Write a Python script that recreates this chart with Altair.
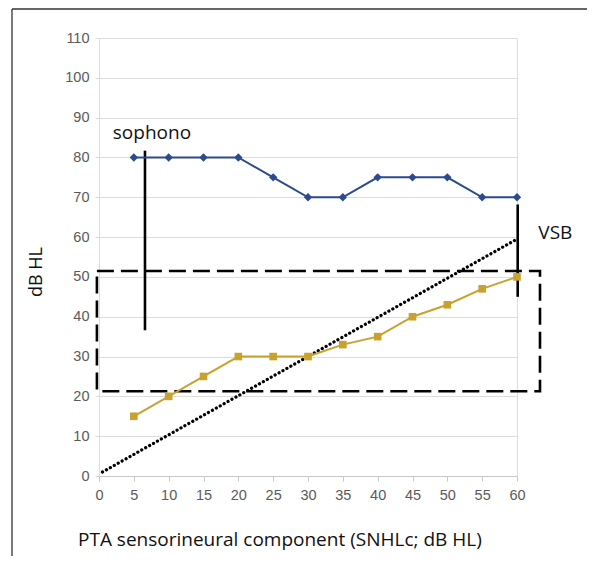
import altair as alt
import pandas as pd

# data
x_vals = [5, 10, 15, 20, 25, 30, 35, 40, 45, 50, 55, 60]
blue_vals = [80, 80, 80, 80, 75, 70, 70, 75, 75, 75, 70, 70]
gold_vals = [15, 20, 25, 30, 30, 30, 33, 35, 40, 43, 47, 50]
diag_x = [0.5, 60]
diag_y = [1, 59.5]
box = {"x": -0.3, "x2": 63.3, "y": 21.3, "y2": 51.5}
sophono_line = {"x": 6.6, "y": 36.6, "y2": 81.7}
vsb_line = {"x": 60.1, "y": 45.0, "y2": 68.2}
labels = [
    {"t": "sophono", "x": 7.6, "y": 86.2},
    {"t": "VSB", "x": 65.5, "y": 61.0},
]
x_ticks = list(range(0, 61, 5))
y_ticks = list(range(0, 111, 10))

BLUE = "#2d4a8e"
GOLD = "#c8a12e"

xs = alt.Scale(domain=[0, 60], nice=False, zero=False)
ys = alt.Scale(domain=[0, 110], nice=False)

df_blue = pd.DataFrame({"x": x_vals, "y": blue_vals})
df_gold = pd.DataFrame({"x": x_vals, "y": gold_vals})
df_diag = pd.DataFrame({"x": diag_x, "y": diag_y})

xaxis = alt.Axis(values=x_ticks, grid=False, title=None, domainColor="#c8c8c8",
                 tickColor="#c8c8c8", tickSize=5, labelPadding=7, labelColor="#5a5a5a",
                 labelFont="Liberation Sans", labelFontSize=14.5, labelOverlap=False,
                 labelFlush=False)
yaxis = alt.Axis(values=y_ticks, grid=True, gridColor="#dcdcdc", title=None,
                 domainColor="#dcdcdc", tickColor="#dcdcdc", tickSize=4, labelPadding=6,
                 labelColor="#5a5a5a", labelFont="Liberation Sans", labelFontSize=14.5,
                 labelOverlap=False, labelFlush=False)


def X(f="x:Q"):
    return alt.X(f, scale=xs, axis=xaxis)


def Y(f="y:Q"):
    return alt.Y(f, scale=ys, axis=yaxis)


diag = alt.Chart(df_diag).mark_line(color="black", strokeWidth=3.2, strokeDash=[0.1, 4.4],
                                    strokeCap="round").encode(x=X(), y=Y())

blue = alt.Chart(df_blue).mark_line(color=BLUE, strokeWidth=2,
                                    point=alt.OverlayMarkDef(shape="diamond", size=70, color=BLUE, filled=True, opacity=1)).encode(
    x=X(), y=Y())

gold = alt.Chart(df_gold).mark_line(color=GOLD, strokeWidth=2,
                                    point=alt.OverlayMarkDef(shape="square", size=58, color=GOLD, filled=True, opacity=1)).encode(
    x=X(), y=Y())

rect = alt.Chart(pd.DataFrame([box])).mark_rect(fill=None, stroke="black", strokeWidth=2.6,
                                               strokeDash=[17, 7]).encode(
    x=X(), x2="x2:Q", y=Y(), y2="y2:Q")

vlines = alt.Chart(pd.DataFrame([sophono_line, vsb_line])).mark_rule(color="black", strokeWidth=2.6).encode(
    x=X(), y=Y(), y2="y2:Q")

txt = alt.Chart(pd.DataFrame(labels)).mark_text(font="Open Sans", fontSize=19, color="#111111",
                                                align="center", baseline="middle").encode(
    x=X(), y=Y(), text="t:N")

ytitle = alt.Chart(pd.DataFrame({"t": ["dB HL"]})).mark_text(font="Open Sans", fontSize=18, color="#111111",
                                                             angle=270, align="center", baseline="middle").encode(
    x=alt.value(-62), y=alt.value(234), text="t:N")

xtitle = alt.Chart(pd.DataFrame({"t": ["PTA sensorineural component (SNHLc; dB HL)"]})).mark_text(
    font="Open Sans", fontSize=19, color="#111111", align="left", baseline="middle").encode(
    x=alt.value(-21), y=alt.value(502), text="t:N")

frame_top = alt.Chart(pd.DataFrame({"a": [0]})).mark_rule(color="#333333", strokeWidth=1.3).encode(
    x=alt.value(-87), x2=alt.value(520), y=alt.value(-29))
frame_left = alt.Chart(pd.DataFrame({"a": [0]})).mark_rule(color="#333333", strokeWidth=1.3).encode(
    x=alt.value(-87), y=alt.value(-29), y2=alt.value(540))

chart = alt.layer(diag, rect, vlines, blue, gold, txt, ytitle, xtitle, frame_top, frame_left).properties(
    width=418, height=438,
    autosize=alt.AutoSizeParams(type="none"),
    padding={"left": 91, "top": 30, "right": 70, "bottom": 80},
).configure_view(stroke=None).configure(background="white")

chart.save("out.html", embed_options={"renderer": "svg", "actions": False})
